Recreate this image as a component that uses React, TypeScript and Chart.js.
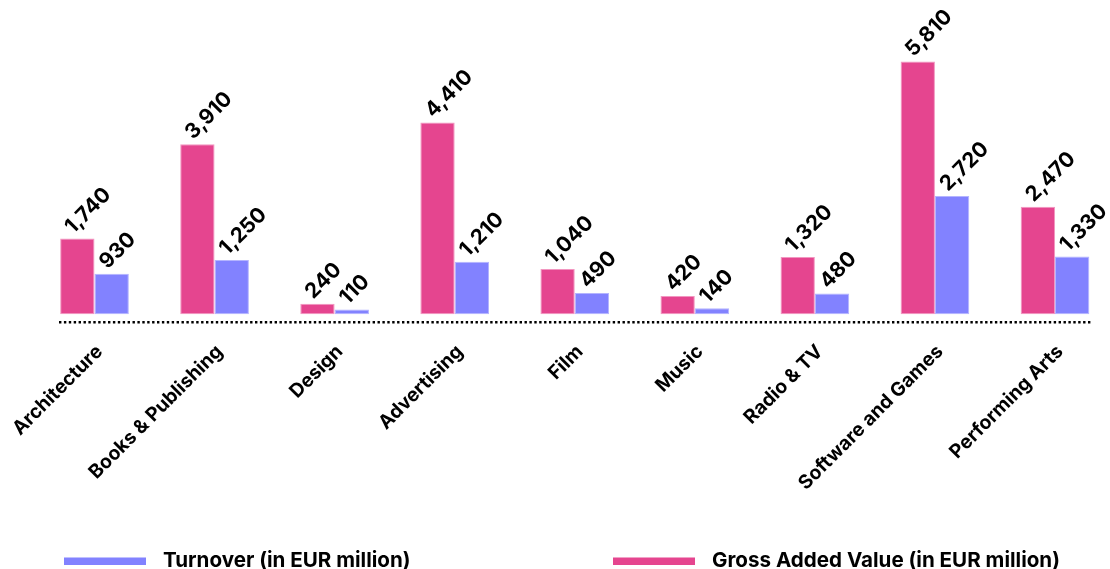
import React, { useEffect, useRef } from "react";
import { Chart, registerables } from "chart.js";

Chart.register(...registerables);

const categories = [
  "Architecture",
  "Books & Publishing",
  "Design",
  "Advertising",
  "Film",
  "Music",
  "Radio & TV",
  "Software and Games",
  "Performing Arts",
];
const grossAddedValue = [1740, 3910, 240, 4410, 1040, 420, 1320, 5810, 2470];
const turnover = [930, 1250, 110, 1210, 490, 140, 480, 2720, 1330];
const legendLabels = ["Turnover (in EUR million)", "Gross Added Value (in EUR million)"];

const MAGENTA = "rgb(229,69,143)";
const MAGENTA_EDGE = "rgb(242,150,192)";
const BLUE = "rgb(130,130,255)";
const BLUE_EDGE = "rgb(180,180,255)";
const FONT = "Inter, 'Noto Sans', sans-serif";

const extrasPlugin = {
  id: "extras",
  afterDatasetsDraw(chart: any) {
    const ctx = chart.ctx;
    const area = chart.chartArea;
    ctx.save();
    // dotted baseline
    ctx.beginPath();
    ctx.strokeStyle = "#000";
    ctx.lineWidth = 2.4;
    ctx.setLineDash([2.4, 2.5]);
    ctx.moveTo(area.left - 35.5, area.bottom + 8);
    ctx.lineTo(area.right + 37, area.bottom + 8);
    ctx.stroke();
    ctx.setLineDash([]);
    // value labels
    ctx.fillStyle = "#000";
    ctx.font = `bold 21px ${FONT}`;
    ctx.textAlign = "left";
    ctx.textBaseline = "alphabetic";
    chart.data.datasets.forEach((ds: any, di: number) => {
      const meta = chart.getDatasetMeta(di);
      meta.data.forEach((bar: any, i: number) => {
        const left = bar.x - bar.width / 2;
        const top = bar.y;
        ctx.save();
        ctx.translate(left + 13, top - 4);
        ctx.rotate(-Math.PI / 4);
        ctx.fillText(Number(ds.data[i]).toLocaleString("en-US"), 0, 0);
        ctx.restore();
      });
    });
    ctx.restore();
  },
  afterDraw(chart: any) {
    const ctx = chart.ctx;
    ctx.save();
    ctx.font = `bold 20.6px ${FONT}`;
    ctx.textAlign = "left";
    ctx.textBaseline = "alphabetic";
    const items = [
      { box: 64, text: 163, color: BLUE, label: legendLabels[0] },
      { box: 613, text: 712, color: MAGENTA, label: legendLabels[1] },
    ];
    items.forEach((it) => {
      ctx.fillStyle = it.color;
      ctx.fillRect(it.box, 557.5, 82, 7.5);
      ctx.fillStyle = "#000";
      ctx.fillText(it.label, it.text, 566.5);
    });
    ctx.restore();
  },
};

export default function App() {
  const ref = useRef<HTMLCanvasElement | null>(null);
  useEffect(() => {
    if (!ref.current) return;
    const chart = new Chart(ref.current, {
      type: "bar",
      data: {
        labels: categories,
        datasets: [
          {
            label: legendLabels[1],
            data: grossAddedValue,
            backgroundColor: MAGENTA,
            borderColor: MAGENTA_EDGE,
            borderWidth: 1,
            borderSkipped: false,
            categoryPercentage: 0.572,
            barPercentage: 1,
            clip: false,
          },
          {
            label: legendLabels[0],
            data: turnover,
            backgroundColor: BLUE,
            borderColor: BLUE_EDGE,
            borderWidth: 1,
            borderSkipped: false,
            categoryPercentage: 0.572,
            barPercentage: 1,
            clip: false,
          },
        ],
      },
      options: {
        animation: false,
        responsive: false,
        maintainAspectRatio: false,
        layout: { padding: { left: 94.5, right: 55, top: 9.8, bottom: 74.7 } },
        plugins: {
          legend: { display: false },
          tooltip: { enabled: false },
        },
        scales: {
          x: {
            offset: false,
            grid: { display: false, drawTicks: false },
            border: { display: false },
            ticks: {
              autoSkip: false,
              minRotation: 45,
              maxRotation: 45,
              padding: 26,
              labelOffset: 5,
              color: "#000",
              font: { family: FONT, size: 19.3, weight: "bold" },
            },
            afterFit: (scale: any) => {
              scale.height = 180;
              scale.paddingLeft = 0;
              scale.paddingRight = 0;
            },
          },
          y: {
            display: false,
            min: 0,
            max: 7000,
          },
        },
      },
      plugins: [extrasPlugin],
    } as any);
    return () => chart.destroy();
  }, []);
  return (
    <div style={{ position: "absolute", left: 0, top: 0, width: 1110, height: 569 }}>
      <canvas ref={ref} width={1110} height={569} style={{ width: 1110, height: 569 }} />
    </div>
  );
}
